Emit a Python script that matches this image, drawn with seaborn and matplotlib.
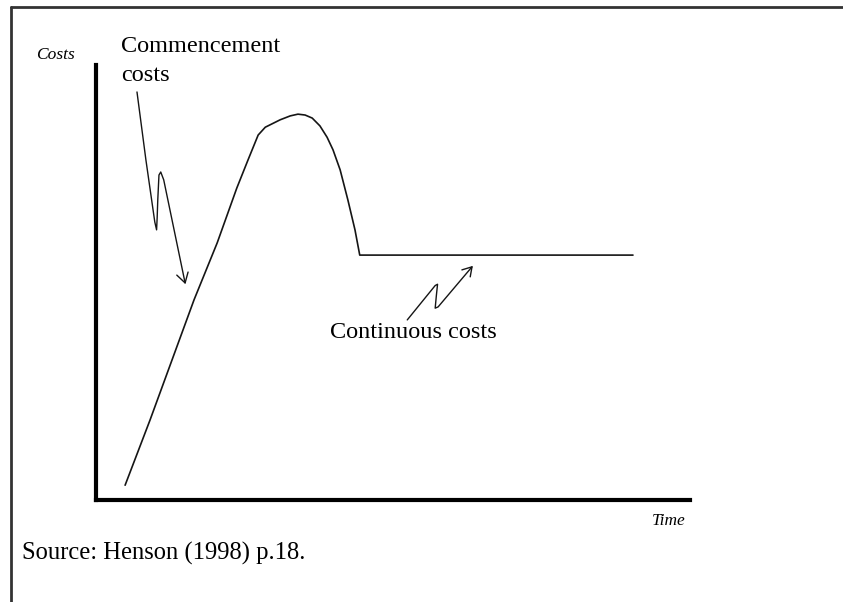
import matplotlib
matplotlib.use("Agg")
import matplotlib.pyplot as plt
from matplotlib.lines import Line2D
import seaborn as sns
import pandas as pd

# ---- data (generic 0-100 units) ----
time_vals = [4.9, 9.1, 16.5, 20.4, 23.7, 25.6, 27.3, 28.5, 31.0, 32.7, 34.0,
             35.2, 36.4, 37.7, 38.9, 39.9, 41.1, 42.4, 43.6, 44.4, 90.4]
cost_vals = [3.4, 18.4, 46.0, 59.1, 71.7, 78.2, 83.9, 85.7, 87.4, 88.3, 88.7,
             88.5, 87.8, 86.0, 83.4, 80.5, 75.9, 69.0, 62.1, 56.3, 56.3]

# annotation squiggle arrows
comm_x = [6.9, 8.4, 9.9, 10.2, 10.3, 10.4, 10.6, 10.9, 11.4, 15.0]
comm_y = [93.8, 78.2, 63.9, 62.1, 65.0, 69.0, 74.7, 75.4, 73.6, 49.9]
comm_head_x = [13.6, 15.0, 15.5]
comm_head_y = [51.7, 49.9, 52.4]

cont_x = [52.4, 57.1, 57.5, 57.3, 57.1, 57.6, 63.3]
cont_y = [41.4, 49.3, 49.6, 47.0, 44.1, 44.4, 53.6]
cont_head_x = [61.6, 63.3, 63.0]
cont_head_y = [52.9, 53.6, 51.3]

y_label = "Costs"
x_label = "Time"
label_commence = "Commencement\ncosts"
label_continuous = "Continuous costs"
source_text = "Source: Henson (1998) p.18."

sns.set_theme(style="white")
plt.rcParams['font.family'] = ['Liberation Serif', 'DejaVu Serif']
plt.rcParams['text.color'] = 'black'

W, H = 843, 602
fig = plt.figure(figsize=(W / 100, H / 100), dpi=100)
fig.patch.set_facecolor("white")

def fx(px):
    return px / W

def fy(py):
    return 1 - py / H

ax = fig.add_axes([fx(96), fy(500), (690 - 96) / W, (500 - 65) / H])
ax.set_xlim(0, 100)
ax.set_ylim(0, 100)

df = pd.DataFrame({"time": time_vals, "cost": cost_vals})
sns.lineplot(data=df, x="time", y="cost", ax=ax, color="#151515",
             linewidth=1.2, sort=False, estimator=None)

ax.plot(comm_x, comm_y, color="#151515", lw=1.0, solid_joinstyle="round")
ax.plot(comm_head_x, comm_head_y, color="#151515", lw=1.0)
ax.plot(cont_x, cont_y, color="#151515", lw=1.0, solid_joinstyle="round")
ax.plot(cont_head_x, cont_head_y, color="#151515", lw=1.0)

for s in ["top", "right"]:
    ax.spines[s].set_visible(False)
for s in ["left", "bottom"]:
    ax.spines[s].set_color("black")
    ax.spines[s].set_linewidth(3)
ax.set_xticks([])
ax.set_yticks([])
ax.set_xlabel("")
ax.set_ylabel("")
ax.set_facecolor("white")

# texts
fig.text(fx(36), fy(55), y_label, fontsize=12.5, style="italic", va="center",
         ha="left", color="black")
fig.text(fx(686), fy(521), x_label, fontsize=12.5, style="italic", va="center",
         ha="right", color="black")
fig.text(fx(121), fy(61), label_commence, fontsize=17.5, va="center", ha="left",
         linespacing=1.45, color="black")
fig.text(fx(330), fy(333), label_continuous, fontsize=17.5, va="center",
         ha="left", color="black")
fig.text(fx(22), fy(553), source_text, fontsize=17.7, va="center", ha="left",
         color="black")

# frame lines (top and left)
fig.add_artist(Line2D([fx(11), 1.0], [fy(7), fy(7)], color="#333333", lw=2))
fig.add_artist(Line2D([fx(11), fx(11)], [fy(7), 0.0], color="#333333", lw=2))

fig.savefig("out.png", dpi=100, facecolor="white")
